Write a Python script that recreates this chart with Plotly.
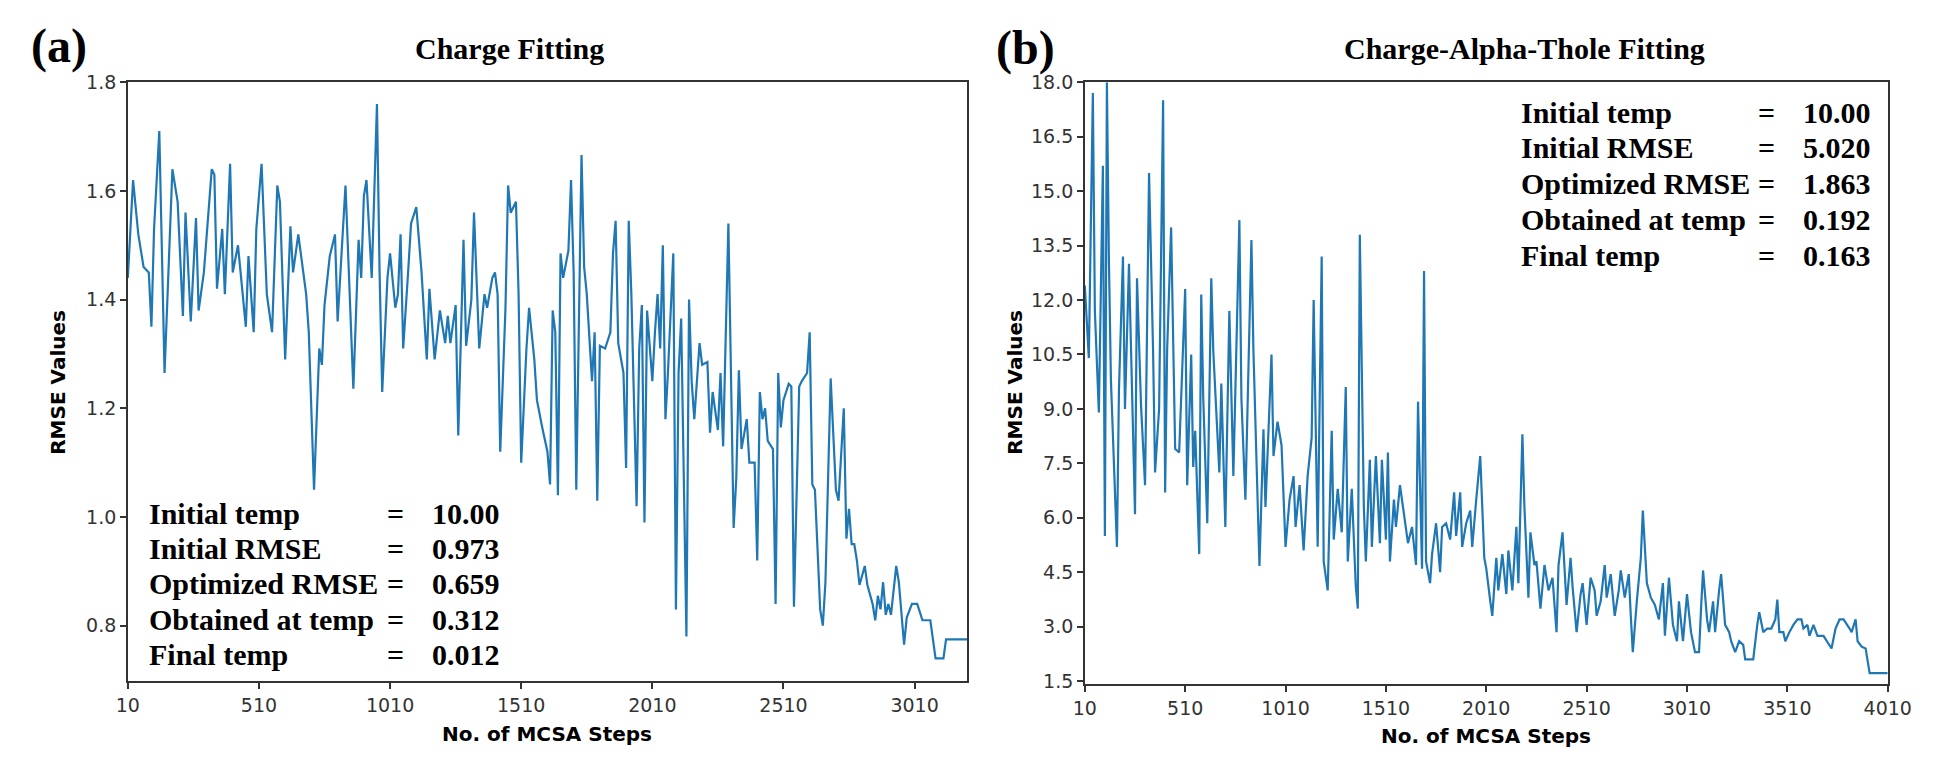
import plotly.graph_objects as go

# ---------------- data: panel (a) Charge Fitting ----------------
steps_a = [10, 30, 50, 70, 90, 100, 110, 130, 150, 180, 200, 220, 230, 250, 270, 280, 300, 330, 340, 350,
           370, 380, 400, 410, 430, 460, 470, 490, 500, 520, 540, 560, 580, 590, 610, 630, 640, 660, 690, 700,
           720, 740, 750, 760, 780, 800, 810, 820, 840, 860, 870, 890, 900, 910, 920, 940, 950, 960, 970, 980,
           1000, 1010, 1030, 1040, 1050, 1060, 1080, 1090, 1110, 1130, 1150, 1160, 1180, 1200, 1220, 1230, 1240, 1260, 1270, 1290,
           1300, 1320, 1330, 1350, 1370, 1380, 1400, 1410, 1420, 1430, 1450, 1460, 1470, 1490, 1500, 1510, 1530, 1540, 1560, 1570,
           1590, 1610, 1620, 1630, 1640, 1650, 1660, 1670, 1690, 1700, 1710, 1720, 1740, 1750, 1760, 1780, 1790, 1800, 1810, 1830,
           1850, 1860, 1870, 1880, 1900, 1910, 1920, 1930, 1950, 1960, 1970, 1980, 1990, 2010, 2020, 2030, 2040, 2050, 2060, 2070,
           2090, 2100, 2110, 2120, 2140, 2150, 2160, 2170, 2190, 2200, 2220, 2230, 2240, 2260, 2270, 2280, 2300, 2320, 2330, 2340,
           2350, 2370, 2380, 2400, 2410, 2420, 2430, 2440, 2450, 2470, 2480, 2490, 2500, 2510, 2530, 2540, 2550, 2570, 2580, 2600,
           2610, 2620, 2630, 2650, 2660, 2670, 2690, 2710, 2720, 2740, 2750, 2760, 2770, 2780, 2790, 2800, 2820, 2830, 2850, 2860,
           2870, 2880, 2890, 2900, 2910, 2920, 2940, 2950, 2970, 2980, 3000, 3020, 3040, 3070, 3090, 3120, 3130, 3210]
rmse_a = [1.44, 1.62, 1.52, 1.46, 1.45, 1.35, 1.53, 1.71, 1.265, 1.64, 1.58, 1.37, 1.56, 1.36, 1.55, 1.38, 1.45, 1.64, 1.63, 1.42,
          1.53, 1.41, 1.65, 1.45, 1.50, 1.35, 1.48, 1.34, 1.53, 1.65, 1.41, 1.34, 1.61, 1.58, 1.29, 1.535, 1.45, 1.52, 1.41, 1.34,
          1.05, 1.31, 1.28, 1.39, 1.48, 1.52, 1.36, 1.44, 1.61, 1.36, 1.236, 1.51, 1.44, 1.59, 1.62, 1.44, 1.62, 1.76, 1.45, 1.23,
          1.44, 1.485, 1.385, 1.41, 1.52, 1.31, 1.46, 1.54, 1.57, 1.45, 1.29, 1.42, 1.29, 1.38, 1.32, 1.37, 1.32, 1.39, 1.15, 1.51,
          1.315, 1.40, 1.56, 1.31, 1.41, 1.385, 1.44, 1.45, 1.41, 1.12, 1.385, 1.61, 1.56, 1.58, 1.41, 1.10, 1.31, 1.385, 1.29, 1.215,
          1.165, 1.12, 1.06, 1.38, 1.34, 1.04, 1.485, 1.44, 1.49, 1.62, 1.45, 1.05, 1.666, 1.46, 1.41, 1.25, 1.34, 1.03, 1.315, 1.31,
          1.34, 1.485, 1.545, 1.32, 1.265, 1.09, 1.545, 1.41, 1.02, 1.31, 1.39, 0.99, 1.38, 1.25, 1.34, 1.41, 1.31, 1.50, 1.18, 1.27,
          1.485, 0.83, 1.265, 1.365, 0.78, 1.40, 1.25, 1.18, 1.32, 1.28, 1.285, 1.155, 1.23, 1.16, 1.265, 1.13, 1.54, 0.98, 1.07, 1.27,
          1.125, 1.18, 1.10, 1.10, 0.92, 1.23, 1.18, 1.20, 1.14, 1.125, 0.84, 1.265, 1.165, 1.215, 1.245, 1.24, 0.835, 1.24, 1.25, 1.265,
          1.34, 1.06, 1.05, 0.83, 0.80, 0.88, 1.255, 1.05, 1.03, 1.20, 0.96, 1.015, 0.95, 0.95, 0.92, 0.875, 0.91, 0.875, 0.84, 0.81,
          0.855, 0.83, 0.88, 0.82, 0.84, 0.82, 0.91, 0.88, 0.765, 0.815, 0.84, 0.84, 0.81, 0.81, 0.74, 0.74, 0.775, 0.775]

# ---------------- data: panel (b) Charge-Alpha-Thole Fitting ----------------
steps_b = [10, 30, 50, 60, 80, 100, 110, 120, 130, 140, 170, 180, 200, 210, 230, 260, 270, 290, 310, 330,
           350, 360, 380, 400, 410, 420, 440, 460, 480, 490, 510, 520, 540, 550, 560, 580, 590, 600, 620, 640,
           650, 680, 690, 710, 730, 750, 780, 790, 810, 840, 850, 880, 900, 910, 940, 950, 970, 990, 1010, 1030,
           1050, 1060, 1080, 1100, 1120, 1140, 1150, 1170, 1190, 1200, 1220, 1240, 1250, 1270, 1290, 1310, 1320, 1340, 1360, 1370,
           1380, 1400, 1410, 1430, 1440, 1460, 1480, 1490, 1510, 1520, 1530, 1550, 1560, 1580, 1600, 1620, 1640, 1660, 1670, 1690,
           1700, 1710, 1730, 1740, 1760, 1780, 1790, 1810, 1830, 1850, 1860, 1880, 1890, 1910, 1930, 1940, 1960, 1980, 2000, 2010,
           2030, 2040, 2060, 2070, 2090, 2110, 2120, 2140, 2160, 2170, 2190, 2200, 2220, 2230, 2250, 2260, 2280, 2300, 2320, 2340,
           2360, 2370, 2390, 2410, 2430, 2440, 2460, 2480, 2490, 2510, 2530, 2550, 2560, 2580, 2600, 2610, 2630, 2650, 2670, 2680,
           2700, 2720, 2730, 2740, 2760, 2780, 2790, 2810, 2830, 2850, 2870, 2890, 2900, 2920, 2940, 2960, 2970, 2990, 3010, 3030,
           3050, 3070, 3080, 3090, 3110, 3120, 3140, 3150, 3170, 3180, 3200, 3220, 3230, 3250, 3270, 3290, 3300, 3330, 3340, 3360,
           3370, 3390, 3410, 3430, 3450, 3460, 3470, 3490, 3500, 3520, 3540, 3560, 3580, 3590, 3610, 3620, 3640, 3660, 3690, 3730,
           3750, 3770, 3790, 3820, 3830, 3850, 3860, 3880, 3900, 3920, 4010]
rmse_b = [12.4, 10.4, 17.7, 11.7, 8.9, 15.7, 5.5, 18.0, 13.1, 9.8, 5.2, 9.5, 13.2, 9.0, 13.0, 6.1, 12.6, 9.1, 6.9, 15.5,
          10.6, 7.25, 9.0, 17.5, 6.7, 10.6, 14.0, 7.9, 7.8, 9.3, 12.3, 6.9, 10.5, 7.4, 8.4, 5.0, 12.15, 9.3, 5.85, 12.6,
          10.6, 7.25, 9.7, 5.75, 11.7, 7.15, 14.2, 9.3, 6.5, 13.65, 10.6, 4.67, 8.44, 6.3, 10.5, 7.7, 8.65, 8.0, 5.2, 6.5,
          7.15, 5.75, 6.9, 5.1, 7.15, 8.2, 12.0, 5.2, 13.2, 4.8, 4.0, 8.4, 5.4, 6.8, 5.6, 9.6, 4.8, 6.8, 4.1, 3.5,
          13.8, 6.3, 4.8, 7.6, 5.2, 7.7, 5.3, 7.6, 5.4, 7.8, 4.8, 6.5, 5.75, 6.9, 6.1, 5.3, 5.75, 4.7, 9.2, 4.6,
          12.8, 4.8, 4.2, 5.0, 5.85, 4.5, 5.75, 5.85, 5.4, 6.7, 5.5, 6.7, 5.2, 5.85, 6.2, 5.2, 6.5, 7.7, 4.9, 4.6,
          3.7, 3.3, 4.9, 4.0, 5.0, 3.9, 5.1, 4.0, 5.75, 4.2, 8.3, 6.3, 3.8, 5.6, 4.7, 4.8, 3.5, 4.7, 4.0, 4.35,
          2.85, 4.7, 5.6, 3.6, 4.9, 4.1, 2.85, 3.9, 4.2, 3.05, 4.35, 4.0, 3.3, 3.7, 4.7, 3.8, 4.45, 3.3, 4.0, 4.55,
          3.8, 4.45, 3.3, 2.3, 3.7, 4.9, 6.2, 4.2, 3.8, 3.6, 3.2, 4.2, 2.75, 4.35, 3.05, 2.6, 3.7, 2.6, 3.9, 2.85,
          2.3, 2.3, 3.5, 4.55, 3.2, 2.85, 3.7, 2.85, 4.0, 4.45, 3.05, 2.85, 2.6, 2.3, 2.6, 2.5, 2.1, 2.1, 2.1, 3.05,
          3.4, 2.85, 2.95, 2.95, 3.2, 3.75, 2.85, 2.85, 2.6, 2.85, 3.05, 3.2, 3.2, 2.95, 3.05, 2.75, 3.05, 2.75, 2.75, 2.4,
          2.95, 3.2, 3.2, 2.95, 2.85, 3.2, 2.6, 2.45, 2.4, 1.72, 1.72]

# ---------------- tick labels / texts ----------------
xticks_a = [10, 510, 1010, 1510, 2010, 2510, 3010]
yticks_a = [0.8, 1.0, 1.2, 1.4, 1.6, 1.8]
xticks_b = [10, 510, 1010, 1510, 2010, 2510, 3010, 3510, 4010]
yticks_b = [1.5, 3.0, 4.5, 6.0, 7.5, 9.0, 10.5, 12.0, 13.5, 15.0, 16.5, 18.0]

info_labels = ["Initial temp", "Initial RMSE", "Optimized RMSE", "Obtained at temp", "Final temp"]
info_a = ["10.00", "0.973", "0.659", "0.312", "0.012"]
info_b = ["10.00", "5.020", "1.863", "0.192", "0.163"]

W, H = 1950, 774
LINE = "#1f77b4"
AX = "#333333"
SERIF = "Liberation Serif, Times New Roman, serif"
SANS = "DejaVu Sans, sans-serif"


def px(x):
    return x / W


def py(y):
    return 1 - y / H


fig = go.Figure()
fig.add_trace(go.Scatter(x=steps_a, y=rmse_a, mode="lines", line=dict(color=LINE, width=2.2),
                         xaxis="x", yaxis="y", showlegend=False))
fig.add_trace(go.Scatter(x=steps_b, y=rmse_b, mode="lines", line=dict(color=LINE, width=2.2),
                         xaxis="x2", yaxis="y2", showlegend=False))

axis_common = dict(showline=True, mirror=True, linecolor=AX, linewidth=1.5, ticks="outside",
                   ticklen=6, tickwidth=1.5, tickcolor=AX, showgrid=False, zeroline=False,
                   tickfont=dict(family=SANS, size=19, color=AX))

fig.update_layout(
    width=W, height=H, margin=dict(l=0, r=0, t=0, b=0),
    paper_bgcolor="white", plot_bgcolor="white",
    xaxis=dict(domain=[px(118), px(973)], range=[10, 3210], tickvals=xticks_a,
               ticktext=[str(v) for v in xticks_a], anchor="y", **axis_common),
    yaxis=dict(domain=[py(687), py(73)], range=[0.698, 1.8], tickvals=yticks_a,
               ticktext=[f"{v:.1f}" for v in yticks_a], anchor="x", **axis_common),
    xaxis2=dict(domain=[px(1093), px(1911)], range=[10, 4010], tickvals=xticks_b,
                ticktext=[str(v) for v in xticks_b], anchor="y2", **axis_common),
    yaxis2=dict(domain=[py(690), py(73)], range=[1.42, 18.0], tickvals=yticks_b,
                ticktext=[f"{v:.1f}" for v in yticks_b], anchor="x2", **axis_common),
)

ann = []


def text(x, y, s, size, family, xanchor="center", angle=0, color="black"):
    ann.append(dict(x=px(x), y=py(y), xref="paper", yref="paper", text=s, showarrow=False,
                    xanchor=xanchor, yanchor="middle", textangle=angle,
                    font=dict(family=family, size=size, color=color)))


# panel labels and titles
text(48, 36, "<b>(a)</b>", 48, SERIF)
text(1033, 38, "<b>(b)</b>", 48, SERIF)
text(507, 38, "<b>Charge Fitting</b>", 30, SERIF)
text(1541, 38, "<b>Charge-Alpha-Thole Fitting</b>", 30, SERIF)

# axis titles
text(47, 381, "<b>RMSE Values</b>", 20, SANS, angle=-90)
text(1022, 381, "<b>RMSE Values</b>", 20, SANS, angle=-90)
text(545, 741, "<b>No. of MCSA Steps</b>", 20, SANS)
text(1502, 743, "<b>No. of MCSA Steps</b>", 20, SANS)

# info blocks
ya = [515, 551, 587, 624, 660]
for lab, val, y in zip(info_labels, info_a, ya):
    text(138, y, f"<b>{lab}</b>", 30, SERIF, xanchor="left")
    text(391, y, "<b>=</b>", 30, SERIF)
    text(499, y, f"<b>{val}</b>", 30, SERIF, xanchor="right")

yb = [104, 140, 177, 214, 251]
for lab, val, y in zip(info_labels, info_b, yb):
    text(1535, y, f"<b>{lab}</b>", 30, SERIF, xanchor="left")
    text(1788, y, "<b>=</b>", 30, SERIF)
    text(1896, y, f"<b>{val}</b>", 30, SERIF, xanchor="right")

fig.update_layout(annotations=ann)
fig.write_html("out.html", config={"displayModeBar": False},
               post_script="document.body.style.margin='0';")
